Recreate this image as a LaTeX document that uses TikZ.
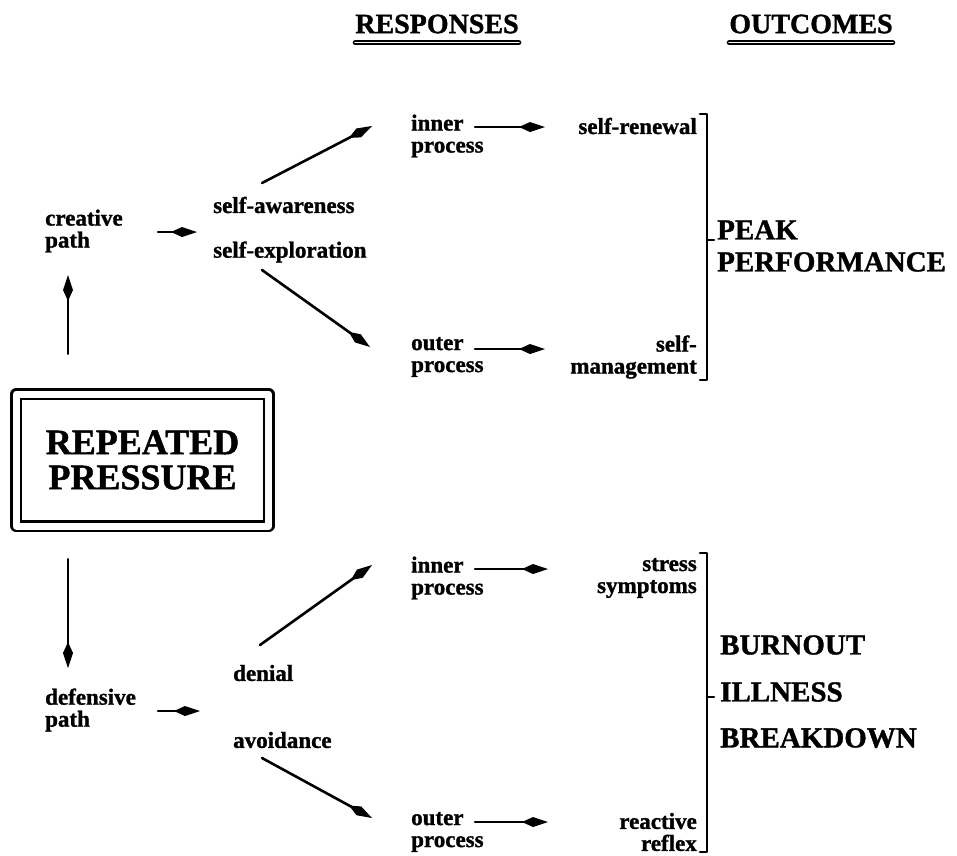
\documentclass[tikz,border=0pt]{standalone}
\usepackage{fontspec}
\setmainfont{Liberation Serif}[BoldFeatures={FakeBold=1.2}]
\usetikzlibrary{arrows.meta}

\tikzset{
	lbl/.style = {inner sep=0pt, font=\fontsize{23}{22}\selectfont\bfseries, align=left},
	lblr/.style = {lbl, align=right},
	big/.style = {inner sep=0pt, font=\fontsize{29}{32}\selectfont\bfseries, align=left},
	hdr/.style = {inner sep=0pt, font=\fontsize{28}{30}\selectfont\bfseries},
	arr/.style = {->, line width=2.6pt},
	brk/.style = {line width=2.6pt},
	uline/.style = {line width=1.6pt, double distance=1.6pt},
}

\begin{document}
\begin{tikzpicture}[
		x = 1pt,
		y = -1pt,
		line join = round,
		line cap = round,
		> = {Kite[length=26pt,width=10pt,inset=11pt]},
		]
\useasboundingbox (0,0) rectangle (957,855);

% headings
\node[hdr] (resp) at (437,24) {RESPONSES};
\node[hdr] (outc) at (811,24) {OUTCOMES};
\draw[uline]	([yshift=-9pt]resp.south west) -- ([yshift=-9pt]resp.south east);
\draw[uline]	([yshift=-9pt]outc.south west) -- ([yshift=-9pt]outc.south east);

% source
\node[draw, double, line width=2.4pt, double distance=7pt,
	minimum width=252.5pt, minimum height=132pt, inner sep=0pt,
	font=\fontsize{36}{35}\selectfont\bfseries, align=center]
	(press) at (142.5,460) {REPEATED\\PRESSURE};

% creative side
\node[lbl, anchor=west]		(creat)		at (45,231)	{creative\\path};
\node[lbl, anchor=west]		(selfaw)	at (213,205)	{self-awareness};
\node[lbl, anchor=west]		(selfex)	at (213,252)	{self-exploration};
\node[lbl, anchor=west]		(innerA)	at (411,136)	{inner\\process};
\node[lbl, anchor=west]		(outerA)	at (411,357)	{outer\\process};
\node[lbl, anchor=east]		(renew)		at (697,126)	{self-renewal};
\node[lblr, anchor=east]	(manage)	at (697,357)	{self-\\management};
\node[big, anchor=west]		(peak)		at (717,246)	{PEAK\\PERFORMANCE};

% defensive side
\node[lbl, anchor=west]		(defen)		at (45,710)	{defensive\\path};
\node[lbl, anchor=west]		(denial)	at (233,673)	{denial};
\node[lbl, anchor=west]		(avoid)		at (233,740)	{avoidance};
\node[lbl, anchor=west]		(innerB)	at (411,578)	{inner\\process};
\node[lbl, anchor=west]		(outerB)	at (411,832)	{outer\\process};
\node[lblr, anchor=east]	(stress)	at (697,578)	{stress\\symptoms};
\node[lblr, anchor=east]	(reflex)	at (697,832)	{reactive\\reflex};
\node[big, anchor=west]		(burn)		at (720,645)	{BURNOUT};
\node[big, anchor=west]		(ill)		at (720,692)	{ILLNESS};
\node[big, anchor=west]		(brkdn)		at (720,738)	{BREAKDOWN};

% arrows
\draw[arr]	([shift={(-74.5,-39)}]press.north) -- ([shift={(23,44)}]creat.west);
\draw[arr]	([shift={(-74.5,32)}]press.south) -- ([shift={(23,-42)}]defen.west);
\draw[arr]	([shift={(113,1)}]creat.west) -- ([shift={(-16,27)}]selfaw.west);
\draw[arr]	([shift={(49,-22)}]selfaw.west) -- ([shift={(-39,-10)}]innerA.west);
\draw[arr]	([shift={(49,18)}]selfex.west) -- ([shift={(-41,-10)}]outerA.west);
\draw[arr]	([shift={(64,-9)}]innerA.west) -- ([shift={(-152,1)}]renew.east);
\draw[arr]	([shift={(64,-8)}]outerA.west) -- ([shift={(-152,-8)}]manage.east);
\draw[arr]	([shift={(113,1)}]defen.west) -- ([shift={(-33,38)}]denial.west);
\draw[arr]	([shift={(27,-28)}]denial.west) -- ([shift={(-39,-13)}]innerB.west);
\draw[arr]	([shift={(29,18)}]avoid.west) -- ([shift={(-39,-14)}]outerB.west);
\draw[arr]	([shift={(64,-9)}]innerB.west) -- ([shift={(-149,-9)}]stress.east);
\draw[arr]	([shift={(64,-10)}]outerB.west) -- ([shift={(-149,-10)}]reflex.east);

% brackets
\draw[brk]	(700,114) -- (707,114) -- (707,380) -- (700,380)
		(707,240) -- (714,240);
\draw[brk]	(700,553) -- (707,553) -- (707,852) -- (700,852)
		(707,697) -- (714,697);
\end{tikzpicture}
\end{document}
